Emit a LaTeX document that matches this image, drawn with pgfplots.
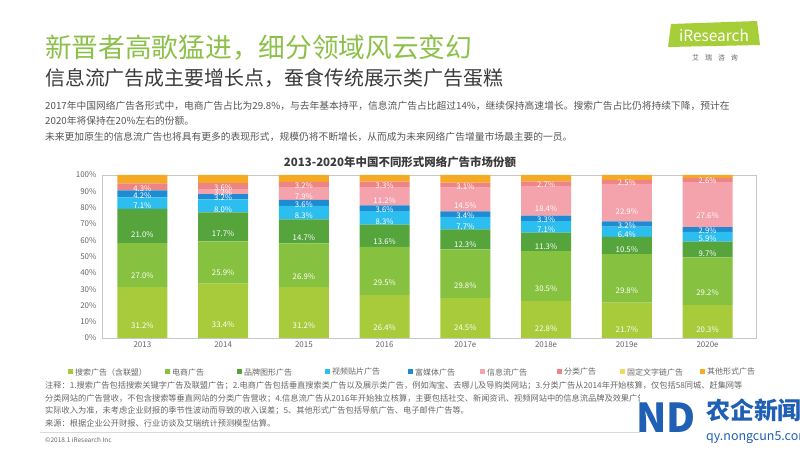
\documentclass[border=0pt]{standalone}
\usepackage{fontspec}
\setmainfont{Noto Sans CJK SC}
\usepackage{pgfplots}
\pgfplotsset{compat=1.18}
\usepackage{pgfplotstable}

\definecolor{cS}{HTML}{A8CB3C}
\definecolor{cE}{HTML}{86C140}
\definecolor{cB}{HTML}{55A53C}
\definecolor{cV}{HTML}{2BBEEE}
\definecolor{cR}{HTML}{1E8BD3}
\definecolor{cI}{HTML}{F4A2AC}
\definecolor{cC}{HTML}{EE8584}
\definecolor{cF}{HTML}{F3D65A}
\definecolor{cO}{HTML}{F4AA22}
\definecolor{titlegreen}{HTML}{8DC04A}
\definecolor{subgray}{HTML}{3C3C3C}
\definecolor{txtgray}{HTML}{555555}
\definecolor{notegray}{HTML}{666666}
\definecolor{logogreen}{HTML}{A6CE39}
\definecolor{wmblue}{HTML}{1F5FB4}

\pgfplotstableread{
x s e b v r i c f o
0 31.2 27.0 21.0 7.1 4.2 0 4.3 0 5.2
1 33.4 25.9 17.7 8.0 3.2 3.2 3.6 0 5.0
2 31.2 26.9 14.7 8.3 3.6 7.9 3.2 0 4.2
3 26.4 29.5 13.6 8.3 3.6 11.2 3.3 0 4.1
4 24.5 29.8 12.3 7.7 3.4 14.5 3.1 0 4.7
5 22.8 30.5 11.3 7.1 3.3 18.4 2.7 0 3.9
6 21.7 29.8 10.5 6.4 3.2 22.9 2.5 0 3.0
7 20.3 29.2 9.7 5.9 2.9 27.6 2.6 0 1.8
}\datatable

\pgfplotsset{
  lbl/.style={
    point meta=explicit symbolic,
    nodes near coords={\ifdim\pgfplotspointmeta pt>0.05pt \pgfplotspointmeta\%\fi},
    every node near coord/.append style={anchor=center, yshift={-\pgfplotspointmeta*0.4075bp},
      text=white, font=\fontsize{7.8}{8}\selectfont, inner sep=0pt},
  },
}

\begin{document}
\begin{tikzpicture}
\useasboundingbox (0,0) rectangle (800bp,450bp);
\fill[white] (0,0) rectangle (800bp,450bp);

% titles
\node[anchor=west, inner sep=0pt, text=titlegreen, font=\fontsize{26.8}{28}\selectfont] at (45bp,402bp) {新晋者高歌猛进，细分领域风云变幻};
\node[anchor=west, inner sep=0pt, text=subgray, font=\fontsize{20}{22}\selectfont] at (45bp,372bp) {信息流广告成主要增长点，蚕食传统展示类广告蛋糕};

% logo
\fill[logogreen] (668bp,403bp) -- (760bp,405bp) -- (757bp,429bp) -- (671bp,426bp) -- cycle;
\node[text=white, font=\fontsize{15.5}{16}\selectfont, inner sep=0pt] at (714bp,415bp) {iResearch};
\node[text=notegray, font=\fontsize{7}{8}\selectfont, inner sep=0pt] at (715bp,392bp) {艾\hspace{6bp}瑞\hspace{6bp}咨\hspace{6bp}询};

% paragraph
\begin{scope}[every node/.style={anchor=west, inner sep=0pt, text=txtgray, font=\fontsize{9.8}{11}\selectfont}]
\node at (45bp,344bp) {2017年中国网络广告各形式中，电商广告占比为29.8\%，与去年基本持平，信息流广告占比超过14\%，继续保持高速增长。搜索广告占比仍将持续下降，预计在};
\node at (45bp,329bp) {2020年将保持在20\%左右的份额。};
\node at (45bp,313bp) {未来更加原生的信息流广告也将具有更多的表现形式，规模仍将不断增长，从而成为未来网络广告增量市场最主要的一员。};
\end{scope}

% chart title
\node[text=subgray, font=\bfseries\fontsize{11.5}{12}\selectfont, inner sep=0pt] at (400bp,288bp) {2013-2020年中国不同形式网络广告市场份额};

\begin{axis}[
  at={(102bp,112bp)}, anchor=south west,
  scale only axis, width=654bp, height=163bp,
  ybar stacked, bar width=50bp,
  xmin=-0.5, xmax=7.6, ymin=0, ymax=100,
  xtick={0,...,7},
  xticklabels={2013,2014,2015,2016,2017e,2018e,2019e,2020e},
  ytick={0,10,...,100},
  yticklabel={\pgfmathprintnumber{\tick}\%},
  /pgf/number format/assume math mode=true,
  major tick length=0pt,
  axis line style={draw=black!22},
  tick label style={text=notegray, font=\fontsize{8}{9}\selectfont},
  yticklabel style={xshift=-2bp},
]
\addplot[fill=cS, draw=none, lbl] table[x=x,y=s,meta=s]{\datatable};
\addplot[fill=cE, draw=none, lbl] table[x=x,y=e,meta=e]{\datatable};
\addplot[fill=cB, draw=none, lbl] table[x=x,y=b,meta=b]{\datatable};
\addplot[fill=cV, draw=none, lbl] table[x=x,y=v,meta=v]{\datatable};
\addplot[fill=cR, draw=none, lbl] table[x=x,y=r,meta=r]{\datatable};
\addplot[fill=cI, draw=none, lbl] table[x=x,y=i,meta=i]{\datatable};
\addplot[fill=cC, draw=none, lbl] table[x=x,y=c,meta=c]{\datatable};
\addplot[fill=cF, draw=none] table[x=x,y=f]{\datatable};
\addplot[fill=cO, draw=none] table[x=x,y=o]{\datatable};
\end{axis}

% legend
\begin{scope}[every node/.style={anchor=west, inner sep=0pt, text=notegray, font=\fontsize{8}{9}\selectfont}]
\foreach \xx/\cc/\tt in {68/cS/搜索广告（含联盟）,165/cE/电商广告,237/cB/品牌图形广告,325/cV/视频贴片广告,408/cR/富媒体广告,480/cI/信息流广告,557/cC/分类广告,620/cF/固定文字链广告,700/cO/其他形式广告}{
  \fill[\cc] (\xx bp,75.5bp) rectangle ++(5bp,5bp);
  \node at (\xx bp+7bp,78bp) {\tt};
}
\end{scope}

% notes
\begin{scope}[every node/.style={anchor=west, inner sep=0pt, text=notegray, font=\fontsize{8.25}{9}\selectfont}]
\node at (45bp,64bp) {注释：1.搜索广告包括搜索关键字广告及联盟广告；2.电商广告包括垂直搜索类广告以及展示类广告，例如淘宝、去哪儿及导购类网站；3.分类广告从2014年开始核算，仅包括58同城、赶集网等};
\node at (45bp,51bp) {分类网站的广告营收，不包含搜索等垂直网站的分类广告营收；4.信息流广告从2016年开始独立核算，主要包括社交、新闻资讯、视频网站中的信息流品牌及效果广告等，移动广告收入以媒体};
\node at (45bp,39bp) {实际收入为准，未考虑企业财报的季节性波动而导致的收入误差；5、其他形式广告包括导航广告、电子邮件广告等。};
\node at (45bp,27bp) {来源：根据企业公开财报、行业访谈及艾瑞统计预测模型估算。};
\end{scope}
\draw[black!15] (40bp,18bp) -- (760bp,18bp);
\node[anchor=west, inner sep=0pt, text=notegray, font=\fontsize{6.5}{7}\selectfont] at (45bp,10bp) {©2018.1 iResearch Inc};

% watermark
\fill[white] (640bp,0bp) rectangle (800bp,56bp);
\node[anchor=west, inner sep=0pt, text=wmblue, font=\bfseries\fontsize{40}{40}\selectfont] at (636bp,32bp) {ND};
\node[anchor=west, inner sep=0pt, text=wmblue, font=\bfseries\fontsize{24}{24}\selectfont] at (706bp,40bp) {农企新闻网};
\node[anchor=west, inner sep=0pt, text=wmblue, font=\fontsize{12.5}{13}\selectfont] at (706bp,12bp) {qy.nongcun5.com};
\end{tikzpicture}
\end{document}
